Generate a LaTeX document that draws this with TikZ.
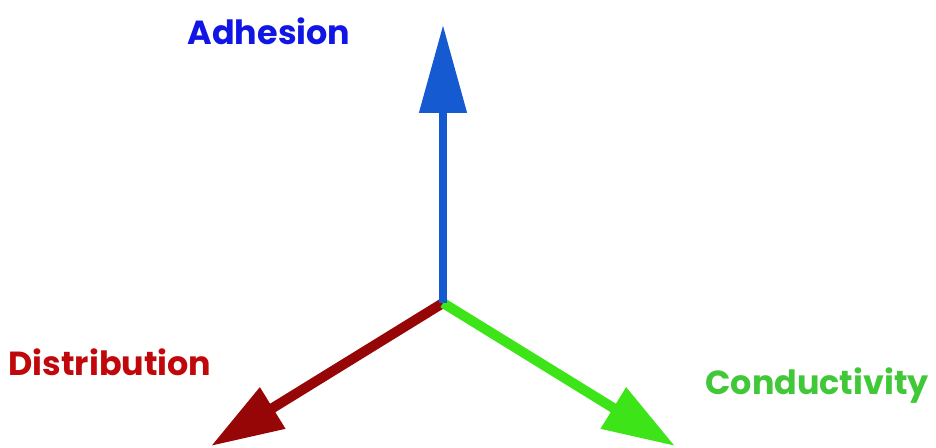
\documentclass[tikz,border=0pt]{standalone}
\usepackage{fontspec}
\setmainfont{Poppins}
\usetikzlibrary{arrows.meta}
\definecolor{adhblue}{RGB}{18,22,228}
\definecolor{disred}{RGB}{192,8,12}
\definecolor{conGreen}{RGB}{64,200,56}
\definecolor{axblue}{RGB}{22,90,210}
\definecolor{axred}{RGB}{150,6,6}
\definecolor{axgreen}{RGB}{60,228,24}
\begin{document}
\begin{tikzpicture}[x=0.02cm,y=-0.02cm,
    axislabel/.style={anchor=base,font=\fontsize{19}{23}\selectfont\bfseries},
    upaxis/.style={line width=0.16cm,-{Triangle[length=1.76cm,width=0.92cm]}},
    sideaxis/.style={line width=0.2cm,-{Triangle[length=1.45cm,width=0.92cm]}}]
    \useasboundingbox (0,0) rectangle (936,448);
    \coordinate (o) at (443,303);
    \coordinate (adhtip) at (443,25);
    \coordinate (distip) at (211,446);
    \coordinate (contip) at (675,446);

    \draw[sideaxis,axred] (o) -- (distip);
    \draw[sideaxis,axgreen] (o) -- (contip);
    \draw[upaxis,axblue] (o) -- (adhtip);

    \node[axislabel,text=adhblue] (adh) at (269,45) {Adhesion};
    \node[axislabel,text=disred] (dis) at (110,376) {Distribution};
    \node[axislabel,text=conGreen] (con) at (817,395) {Conductivity};
\end{tikzpicture}
\end{document}
